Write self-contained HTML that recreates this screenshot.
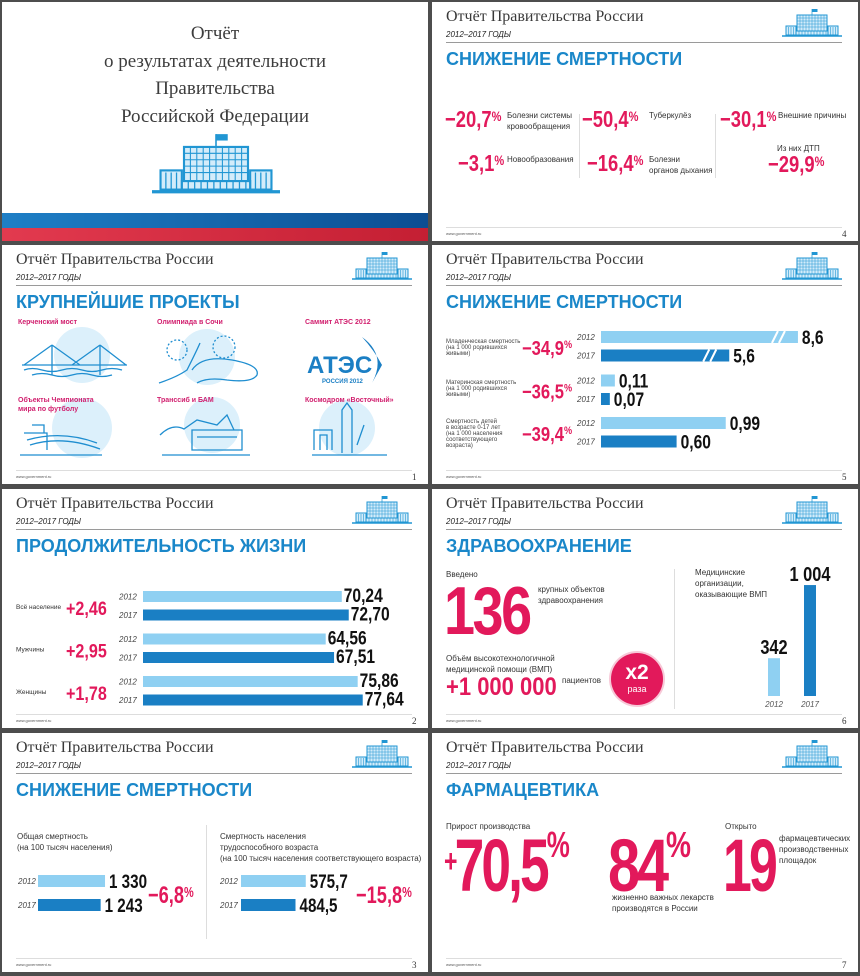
<!DOCTYPE html>
<html><head><meta charset="utf-8">
<style>
*{margin:0;padding:0;box-sizing:border-box}
body{width:860px;height:976px;background:#4d4d4d;position:relative;overflow:hidden;font-family:"Liberation Sans","Noto Sans CJK SC",sans-serif}
.s{position:absolute;background:#fff;width:426px;height:239px;overflow:hidden}
.t{position:absolute;white-space:nowrap;line-height:1}
.hd{left:14px;top:6px;font:16px "Liberation Serif",serif;color:#3a3a3a}
.yr{left:14px;top:28px;font:italic 8px "Liberation Sans",sans-serif;color:#222}
.hl{position:absolute;left:14px;top:40px;width:396px;height:1px;background:#9a9a9a}
.ic{position:absolute;left:350px;top:5px;width:60px;height:32px}
.h2{left:14px;top:47px;font:bold 18px "Liberation Sans",sans-serif;color:#1a87c9}
.ft{position:absolute;left:14px;top:225px;width:396px;height:1px;background:#ddd}
.url{left:14px;top:229px;font:4px "Liberation Sans",sans-serif;color:#555}
.pn{left:410px;top:227px;font:9px "Liberation Serif",serif;color:#333}
.pk{color:#e2195b;font-family:"Liberation Sans",sans-serif;font-weight:bold;transform:scaleX(.8);transform-origin:0 0}
.pk sup{font-size:0.6em;vertical-align:0;position:relative;top:-0.45em}
.lb{font:8px "Liberation Sans",sans-serif;color:#333;line-height:11px}
.tiny{font:6px "Liberation Sans",sans-serif;color:#444;line-height:6px}
.plab{font:bold 7px "Liberation Sans",sans-serif;color:#d11f6e;line-height:9px}
svg text{font-family:"Liberation Sans",sans-serif}
</style></head>
<body>
<svg width="0" height="0" style="position:absolute">
<symbol id="bld" viewBox="0 0 120 60">
<line x1="60" y1="2" x2="60" y2="14" stroke="#2196d3" stroke-width="1.5"/>
<rect x="60" y="2" width="11" height="6" fill="#2196d3"/>
<rect x="30" y="14" width="60" height="32" fill="#d3ecfa" stroke="#2196d3" stroke-width="2"/>
<path d="M36 14V46M42 14V46M48 14V46M54 14V46M60 14V46M66 14V46M72 14V46M78 14V46M84 14V46M30 20H90M30 26H90M30 32H90M30 38H90" stroke="#2196d3" stroke-width="1"/>
<rect x="8" y="36" width="20" height="18" fill="#d3ecfa" stroke="#2196d3" stroke-width="2"/>
<rect x="92" y="36" width="20" height="18" fill="#d3ecfa" stroke="#2196d3" stroke-width="2"/>
<rect x="28" y="46" width="64" height="8" fill="#d3ecfa" stroke="#2196d3" stroke-width="2"/>
<path d="M13 38V54M18 38V54M23 38V54M97 38V54M102 38V54M107 38V54M34 46V54M40 46V54M46 46V54M52 46V54M58 46V54M64 46V54M70 46V54M76 46V54M82 46V54M88 46V54" stroke="#2196d3" stroke-width="1.2"/>
<line x1="0" y1="56" x2="120" y2="56" stroke="#2196d3" stroke-width="3"/>
</symbol>
</svg>

<!-- Title slide -->
<div class="s" style="left:2px;top:2px">
  <div class="t" style="left:0;width:426px;text-align:center;top:18px;font:19px 'Liberation Serif',serif;color:#3d3d3d;line-height:27.5px;white-space:normal">Отчёт<br>о результатах деятельности<br>Правительства<br>Российской Федерации</div>
  <svg style="position:absolute;left:150px;top:128px" width="128" height="68" viewBox="0 0 120 60"><use href="#bld"/></svg>
  <div style="position:absolute;left:0;top:211px;width:426px;height:15px;background:linear-gradient(90deg,#1e7fc6,#0c4d92)"></div>
  <div style="position:absolute;left:0;top:226px;width:426px;height:13px;background:linear-gradient(90deg,#e23a4f,#c41f33)"></div>
</div>

<!-- Slide 4 -->
<div class="s" style="left:432px;top:2px">
  <div class="t hd">Отчёт Правительства России</div>
  <div class="t yr">2012–2017 ГОДЫ</div>
  <svg class="ic" viewBox="0 0 120 60"><use href="#bld"/></svg>
  <div class="hl"></div>
  <div class="t h2">СНИЖЕНИЕ СМЕРТНОСТИ</div>
  <div class="t pk" style="left:13px;top:106px;font-size:23px">−20,7<sup>%</sup></div>
  <div class="t lb" style="left:75px;top:108px">Болезни системы<br>кровообращения</div>
  <div class="t pk" style="left:150px;top:106px;font-size:23px">−50,4<sup>%</sup></div>
  <div class="t lb" style="left:217px;top:108px">Туберкулёз</div>
  <div class="t pk" style="left:288px;top:106px;font-size:23px">−30,1<sup>%</sup></div>
  <div class="t lb" style="left:346px;top:108px">Внешние причины</div>
  <div class="t pk" style="left:26px;top:150px;font-size:23px">−3,1<sup>%</sup></div>
  <div class="t lb" style="left:75px;top:152px">Новообразования</div>
  <div class="t pk" style="left:155px;top:150px;font-size:23px">−16,4<sup>%</sup></div>
  <div class="t lb" style="left:217px;top:152px">Болезни<br>органов дыхания</div>
  <div class="t lb" style="left:345px;top:141px">Из них ДТП</div>
  <div class="t pk" style="left:336px;top:151px;font-size:23px">−29,9<sup>%</sup></div>
  <div style="position:absolute;left:147px;top:112px;width:1px;height:64px;background:#ddd"></div>
  <div style="position:absolute;left:283px;top:112px;width:1px;height:64px;background:#ddd"></div>
  <div class="ft"></div>
  <div class="t url">www.government.ru</div>
  <div class="t pn">4</div>
</div>

<!-- Slide 1 projects -->
<div class="s" style="left:2px;top:245px">
  <div class="t hd">Отчёт Правительства России</div>
  <div class="t yr">2012–2017 ГОДЫ</div>
  <svg class="ic" viewBox="0 0 120 60"><use href="#bld"/></svg>
  <div class="hl"></div>
  <div class="t h2">КРУПНЕЙШИЕ ПРОЕКТЫ</div>
  <svg style="position:absolute;left:0;top:80px" width="426" height="140">
    <g fill="#dcf0fb"><circle cx="80" cy="30" r="28"/><circle cx="205" cy="32" r="28"/><circle cx="80" cy="103" r="30"/><circle cx="210" cy="100" r="28"/><circle cx="345" cy="103" r="28"/></g>
    <g stroke="#1f8ed0" stroke-width="1.3" fill="none">
      <path d="M20 40H125M50 20V50M98 20V50M50 20L22 40M50 20L78 40M98 20L70 40M98 20L124 40M22 45Q30 42 40 45T60 45T80 45T100 45T120 45M30 50Q40 47 50 50T70 50T90 50T110 50"/>
      <path d="M157 58Q175 52 185 45Q195 25 198 18M190 45Q200 30 230 35Q258 40 255 50Q250 58 225 55Q205 52 195 58"/>
      <circle cx="175" cy="25" r="10" stroke-dasharray="2 2"/><circle cx="222" cy="22" r="11" stroke-dasharray="2 2"/>
      <path d="M18 130H100M22 108H45V125M30 100H42V108M25 115Q60 105 95 118M28 120Q60 110 98 124"/>
      <path d="M158 110Q170 98 182 104L195 95L215 100L225 90L232 105M190 105H240V125H190ZM160 130H248M195 112H235"/>
      <path d="M310 130H385M312 125V105H330V125M318 125V110H325V125M340 128V85L345 78L350 85V128M355 120L362 100"/>
    </g>
    <text x="305" y="48" font-size="24" font-weight="bold" fill="#1b7fc4">АТЭС</text>
    <text x="320" y="58" font-size="6" font-weight="bold" fill="#1b7fc4">РОССИЯ 2012</text>
    <path d="M360 12Q385 30 370 58L380 40Q372 25 360 12Z" fill="#1b7fc4"/>
  </svg>
  <div class="t plab" style="left:16px;top:73px">Керченский мост</div>
  <div class="t plab" style="left:155px;top:73px">Олимпиада в Сочи</div>
  <div class="t plab" style="left:303px;top:73px">Саммит АТЭС 2012</div>
  <div class="t plab" style="left:16px;top:151px">Объекты Чемпионата<br>мира по футболу</div>
  <div class="t plab" style="left:155px;top:151px">Транссиб и БАМ</div>
  <div class="t plab" style="left:303px;top:151px">Космодром «Восточный»</div>
  <div class="ft"></div>
  <div class="t url">www.government.ru</div>
  <div class="t pn">1</div>
</div>

<!-- Slide 5 -->
<div class="s" style="left:432px;top:245px">
  <div class="t hd">Отчёт Правительства России</div>
  <div class="t yr">2012–2017 ГОДЫ</div>
  <svg class="ic" viewBox="0 0 120 60"><use href="#bld"/></svg>
  <div class="hl"></div>
  <div class="t h2">СНИЖЕНИЕ СМЕРТНОСТИ</div>
  <div class="t tiny" style="left:14px;top:94px">Младенческая смертность<br>(на 1 000 родившихся<br>живыми)</div>
  <div class="t tiny" style="left:14px;top:135px">Материнская смертность<br>(на 1 000 родившихся<br>живыми)</div>
  <div class="t tiny" style="left:14px;top:174px">Смертность детей<br>в возрасте 0-17 лет<br>(на 1 000 населения<br>соответствующего<br>возраста)</div>
  <svg id="c5" style="position:absolute;left:0;top:0" width="426" height="239"></svg>
  <div class="ft"></div>
  <div class="t url">www.government.ru</div>
  <div class="t pn">5</div>
</div>

<!-- Slide 2 -->
<div class="s" style="left:2px;top:489px">
  <div class="t hd">Отчёт Правительства России</div>
  <div class="t yr">2012–2017 ГОДЫ</div>
  <svg class="ic" viewBox="0 0 120 60"><use href="#bld"/></svg>
  <div class="hl"></div>
  <div class="t h2">ПРОДОЛЖИТЕЛЬНОСТЬ ЖИЗНИ</div>
  <svg id="c2" style="position:absolute;left:0;top:0" width="426" height="239"></svg>
  <div class="ft"></div>
  <div class="t url">www.government.ru</div>
  <div class="t pn">2</div>
</div>

<!-- Slide 6 -->
<div class="s" style="left:432px;top:489px">
  <div class="t hd">Отчёт Правительства России</div>
  <div class="t yr">2012–2017 ГОДЫ</div>
  <svg class="ic" viewBox="0 0 120 60"><use href="#bld"/></svg>
  <div class="hl"></div>
  <div class="t h2">ЗДРАВООХРАНЕНИЕ</div>
  <div class="t lb" style="left:14px;top:80px">Введено</div>
  <div class="t pk" style="left:12px;top:88px;font-size:68px;letter-spacing:-3px;transform:scaleX(.82)">136</div>
  <div class="t lb" style="left:106px;top:95px">крупных объектов<br>здравоохранения</div>
  <div class="t lb" style="left:14px;top:164px">Объём высокотехнологичной<br>медицинской помощи (ВМП)</div>
  <div class="t pk" style="left:14px;top:186px;font-size:25px;transform:scaleX(.88)">+1 000 000</div>
  <div class="t lb" style="left:130px;top:186px">пациентов</div>
  <div style="position:absolute;left:179px;top:164px;width:52px;height:52px;border-radius:50%;background:#e2195b;box-shadow:0 0 0 2px #f7c9d8"></div>
  <div class="t" style="left:179px;width:52px;text-align:center;top:172px;font:bold 21px 'Liberation Sans',sans-serif;color:#fff">x2</div>
  <div class="t" style="left:179px;width:52px;text-align:center;top:195px;font:9px 'Liberation Sans',sans-serif;color:#fff">раза</div>
  <div style="position:absolute;left:242px;top:80px;width:1px;height:140px;background:#ddd"></div>
  <div class="t lb" style="left:263px;top:78px">Медицинские<br>организации,<br>оказывающие ВМП</div>
  <svg id="c6" style="position:absolute;left:0;top:0" width="426" height="239"></svg>
  <div class="ft"></div>
  <div class="t url">www.government.ru</div>
  <div class="t pn">6</div>
</div>

<!-- Slide 3 -->
<div class="s" style="left:2px;top:733px">
  <div class="t hd">Отчёт Правительства России</div>
  <div class="t yr">2012–2017 ГОДЫ</div>
  <svg class="ic" viewBox="0 0 120 60"><use href="#bld"/></svg>
  <div class="hl"></div>
  <div class="t h2">СНИЖЕНИЕ СМЕРТНОСТИ</div>
  <div class="t lb" style="left:15px;top:98px">Общая смертность<br>(на 100 тысяч населения)</div>
  <div class="t lb" style="left:218px;top:98px">Смертность населения<br>трудоспособного возраста<br>(на 100 тысяч населения соответствующего возраста)</div>
  <div style="position:absolute;left:204px;top:92px;width:1px;height:114px;background:#ddd"></div>
  <svg id="c3" style="position:absolute;left:0;top:0" width="426" height="239"></svg>
  <div class="t pk" style="left:146px;top:151px;font-size:24px;transform:scaleX(.76)">−6,8<sup>%</sup></div>
  <div class="t pk" style="left:354px;top:151px;font-size:24px;transform:scaleX(.76)">−15,8<sup>%</sup></div>
  <div class="ft"></div>
  <div class="t url">www.government.ru</div>
  <div class="t pn">3</div>
</div>

<!-- Slide 7 -->
<div class="s" style="left:432px;top:733px">
  <div class="t hd">Отчёт Правительства России</div>
  <div class="t yr">2012–2017 ГОДЫ</div>
  <svg class="ic" viewBox="0 0 120 60"><use href="#bld"/></svg>
  <div class="hl"></div>
  <div class="t h2">ФАРМАЦЕВТИКА</div>
  <div class="t lb" style="left:14px;top:88px">Прирост производства</div>
  <div class="t pk" style="left:12px;top:96px;font-size:74px;letter-spacing:-4px;transform:scaleX(.72)"><span style="font-size:32px;vertical-align:top;position:relative;top:16px">+</span>70,5<sup style="font-size:36px;top:-0.95em">%</sup></div>
  <div class="t pk" style="left:176px;top:96px;font-size:74px;letter-spacing:-4px;transform:scaleX(.78)">84<sup style="font-size:36px;top:-0.95em">%</sup></div>
  <div class="t lb" style="left:180px;top:159px">жизненно важных лекарств<br>производятся в России</div>
  <div class="t lb" style="left:293px;top:88px">Открыто</div>
  <div class="t pk" style="left:291px;top:96px;font-size:74px;letter-spacing:-4px;transform:scaleX(.7)">19</div>
  <div class="t lb" style="left:347px;top:100px">фармацевтических<br>производственных<br>площадок</div>
  <div class="ft"></div>
  <div class="t url">www.government.ru</div>
  <div class="t pn">7</div>
</div>

<script>
// ---- data ----
const mortYears = ['2012','2017'];
const mort2012 = [8.6, 0.11, 0.99];
const mort2017 = [5.6, 0.07, 0.60];
const mortChange = ['−34,9', '−36,5', '−39,4'];
const lifeCats = ['Всё население', 'Мужчины', 'Женщины'];
const life2012 = [70.24, 64.56, 75.86];
const life2017 = [72.70, 67.51, 77.64];
const lifeDelta = ['+2,46', '+2,95', '+1,78'];
const totalMort = [1330, 1243];
const workMort = [575.7, 484.5];
const vmpYears = ['2012', '2017'];
const vmpOrgs = [342, 1004];

const NS = 'http://www.w3.org/2000/svg';
const LIGHT = '#8fd0f2', DARK = '#1a7fc4', PINK = '#e2195b';
function el(parent, tag, attrs, txt) {
  const e = document.createElementNS(NS, tag);
  for (const k in attrs) e.setAttribute(k, attrs[k]);
  if (txt !== undefined) e.textContent = txt;
  parent.appendChild(e);
  return e;
}
function narrow(t, x, s) { t.setAttribute('transform', 'translate(' + x + ' 0) scale(' + s + ' 1) translate(' + (-x) + ' 0)'); }
function fmt(v, d) { return v.toFixed(d).replace('.', ','); }
function fmtThousands(v) { return String(v).replace(/\B(?=(\d{3})+(?!\d))/g, ' '); }

// ---- slide 5 chart ----
(function () {
  const svg = document.getElementById('c5');
  const x0 = 169;
  const groupScale = [22.9, 126, 126];
  const groupTop = [86, 129.5, 172];
  const decimals = [1, 2, 2];
  function xw(g, v) { return v * groupScale[g]; }
  for (let g = 0; g < 3; g++) {
    [mort2012, mort2017].forEach((series, si) => {
      const y = groupTop[g] + si * 18.5;
      const w = xw(g, series[g]);
      const r = el(svg, 'rect', {x: x0, y: y, width: w, height: 12, fill: si ? DARK : LIGHT});
      
      
      if (g === 0) {
        const bx = x0 + w - 26;
        const br = el(svg, 'path', {d: `M${bx} ${y+12}L${bx+6} ${y}M${bx+7} ${y+12}L${bx+13} ${y}`, stroke: '#fff', 'stroke-width': 2});
        
        
      }
      const tx = x0 + w + 4;
      const t = el(svg, 'text', {x: tx, y: y + 13, 'font-size': 19, 'font-weight': 'bold', fill: '#111'}, fmt(series[g], decimals[g]));
      narrow(t, tx, 0.82);
      
      
      const yl = el(svg, 'text', {x: 145, y: y + 9, 'font-size': 8, 'font-style': 'italic', fill: '#444'}, mortYears[si]);
      
      
    });
    const pc = el(svg, 'text', {x: 90, y: groupTop[g] + 24, 'font-size': 20, 'font-weight': 'bold', fill: PINK}, mortChange[g]);
    narrow(pc, 90, 0.83);
    
    
    const ps = el(pc, 'tspan', {'font-size': 11, dy: -7}, '%');
    
    
  }
})();

// ---- slide 2 chart ----
(function () {
  const svg = document.getElementById('c2');
  const x0 = 141, k = 2.83;
  const groupTop = [102, 144.5, 187];
  for (let g = 0; g < 3; g++) {
    [life2012, life2017].forEach((series, si) => {
      const y = groupTop[g] + si * 18.5;
      const w = series[g] * k;
      const r = el(svg, 'rect', {x: x0, y: y, width: w, height: 11, fill: si ? DARK : LIGHT});
      
      
      const tx = x0 + w + 2;
      const t = el(svg, 'text', {x: tx, y: y + 11, 'font-size': 19, 'font-weight': 'bold', fill: '#111'}, fmt(series[g], 2));
      narrow(t, tx, 0.82);
      
      
      const yl = el(svg, 'text', {x: 117, y: y + 8.5, 'font-size': 8, 'font-style': 'italic', fill: '#444'}, mortYears[si]);
      
      
    });
    const c = el(svg, 'text', {x: 14, y: groupTop[g] + 18, 'font-size': 6.5, fill: '#333'}, lifeCats[g]);
    
    
    const d = el(svg, 'text', {x: 64, y: groupTop[g] + 24, 'font-size': 19, 'font-weight': 'bold', fill: PINK}, lifeDelta[g]);
    narrow(d, 64, 0.85);
    
    
  }
})();

// ---- slide 3 chart ----
(function () {
  const svg = document.getElementById('c3');
  const panels = [{data: totalMort, x0: 36, k: 0.0504, dec: 0, yx: 16}, {data: workMort, x0: 239, k: 0.1125, dec: 1, yx: 218}];
  panels.forEach((p, pi) => {
    p.data.forEach((v, i) => {
      const y = 142 + i * 24;
      const w = v * p.k;
      const r = el(svg, 'rect', {x: p.x0, y: y, width: w, height: 12, fill: i ? DARK : LIGHT});
      
      
      const txt = p.dec ? fmt(v, 1) : fmtThousands(v);
      const tx = p.x0 + w + 4;
      const t = el(svg, 'text', {x: tx, y: y + 13, 'font-size': 19, 'font-weight': 'bold', fill: '#111'}, txt);
      narrow(t, tx, 0.8);
      
      
      const yl = el(svg, 'text', {x: p.yx, y: y + 9, 'font-size': 8, 'font-style': 'italic', fill: '#444'}, mortYears[i]);
      
      
    });
  });
})();

// ---- slide 6 chart ----
(function () {
  const svg = document.getElementById('c6');
  const base = 207, k = 0.1105, centers = [342, 378];
  vmpOrgs.forEach((v, i) => {
    const h = v * k;
    const r = el(svg, 'rect', {x: centers[i] - 6, y: base - h, width: 12, height: h, fill: i ? DARK : LIGHT});
    
    
    const t = el(svg, 'text', {x: centers[i], y: base - h - 4, 'font-size': 20, 'font-weight': 'bold', fill: '#111', 'text-anchor': 'middle'}, fmtThousands(v));
    narrow(t, centers[i], 0.82);
    
    
    const yl = el(svg, 'text', {x: centers[i], y: 218, 'font-size': 8, 'font-style': 'italic', fill: '#555', 'text-anchor': 'middle'}, vmpYears[i]);
    
    
  });
})();
</script>
</body></html>
